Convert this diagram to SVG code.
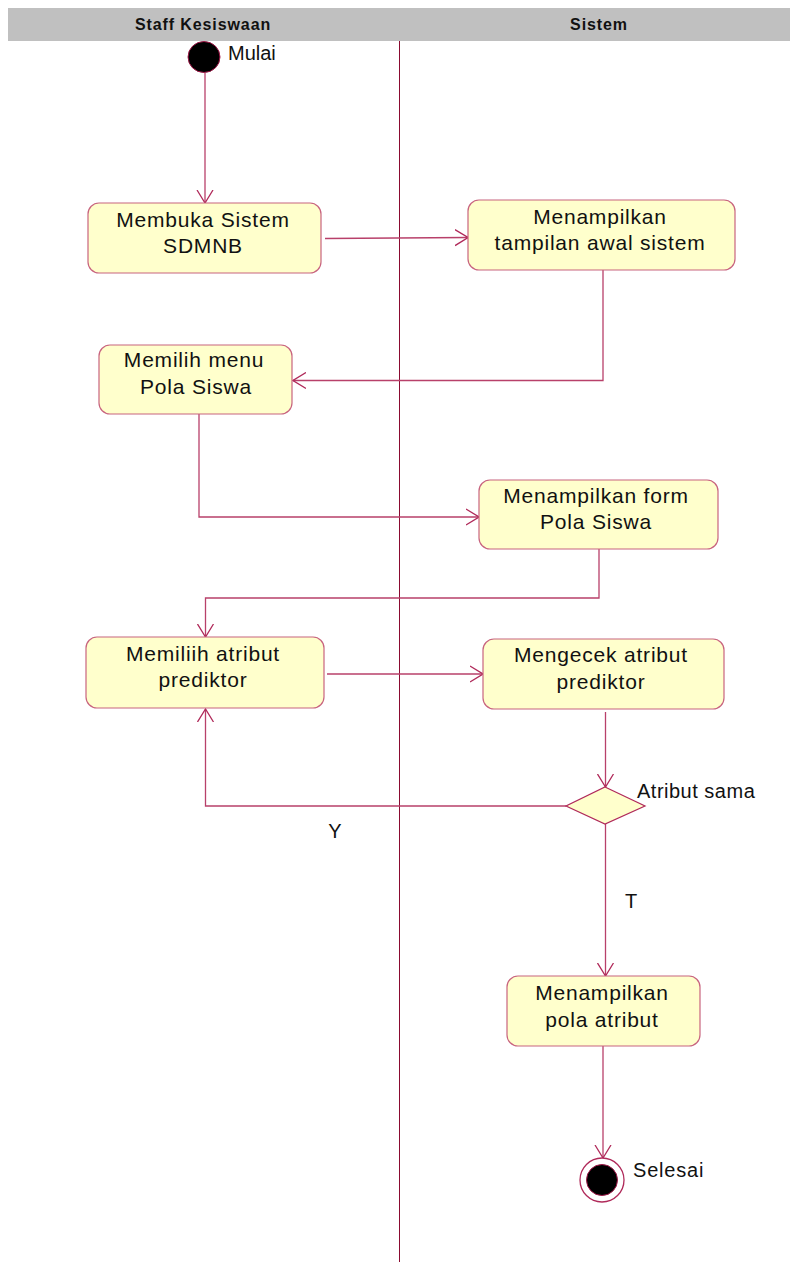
<svg xmlns="http://www.w3.org/2000/svg" width="790" height="1266" viewBox="0 0 790 1266">
  <style>
    .lane-title { font-family: "Liberation Sans", Arial, sans-serif; font-size: 16px; font-weight: bold; letter-spacing: 0.9px; fill: #111; text-anchor: middle; }
    .act { fill: #ffffcc; stroke: #c8647f; stroke-width: 1.2; }
    .label { font-family: "Liberation Sans", Arial, sans-serif; font-size: 21px; letter-spacing: 0.8px; fill: #111; text-anchor: middle; }
    .note { font-family: "Liberation Sans", Arial, sans-serif; font-size: 20px; fill: #111; }
    .flow { fill: none; stroke: #b8406a; stroke-width: 1.3; marker-end: url(#open); }
  </style>
  <defs>
    <marker id="open" viewBox="0 0 14 18" refX="13" refY="9" markerWidth="14" markerHeight="18" markerUnits="userSpaceOnUse" orient="auto">
      <path d="M0,1 L13,9 L0,17" fill="none" stroke="#b02a5a" stroke-width="1.3"/>
    </marker>
  </defs>

  <!-- swimlane header and divider -->
  <g id="lanes">
    <rect x="8" y="8" width="782" height="33" fill="#c0c0c0"/>
    <text class="lane-title" x="203" y="30">Staff Kesiswaan</text>
    <text class="lane-title" x="599" y="30">Sistem</text>
    <line x1="399.5" y1="41" x2="399.5" y2="1262" stroke="#8a0a30" stroke-width="1"/>
  </g>

  <!-- connectors -->
  <g id="connectors">
    <path class="flow" d="M205,73 L205,203"/>
    <path class="flow" d="M325,238.5 L468,237.5"/>
    <path class="flow" d="M603,270 L603,380.5 L293,380.5"/>
    <path class="flow" d="M199,414 L199,517 L479,517"/>
    <path class="flow" d="M599,549 L599,598 L205.5,598 L205.5,637"/>
    <path class="flow" d="M327,674 L483,674"/>
    <path class="flow" d="M605.5,712 L605.5,787"/>
    <path class="flow" d="M566,806 L205.5,806 L205.5,709"/>
    <path class="flow" d="M605.5,824 L605.5,976"/>
    <path class="flow" d="M603,1046 L603,1158"/>
  </g>

  <g id="start">
    <ellipse cx="204" cy="57" rx="16" ry="15.5" fill="#000" stroke="#a01848" stroke-width="1"/>
    <text class="note" x="228" y="60">Mulai</text>
  </g>

  <g id="buka-sistem">
    <rect class="act" x="88" y="203" width="233" height="70" rx="11"/>
    <text class="label" x="203" y="227">Membuka Sistem</text>
    <text class="label" x="203" y="253">SDMNB</text>
  </g>

  <g id="tampilan-awal">
    <rect class="act" x="468" y="200" width="267" height="70" rx="11"/>
    <text class="label" x="600" y="224">Menampilkan</text>
    <text class="label" x="600" y="250">tampilan awal sistem</text>
  </g>

  <g id="pilih-menu">
    <rect class="act" x="99" y="345" width="193" height="69" rx="11"/>
    <text class="label" x="194" y="367">Memilih menu</text>
    <text class="label" x="196" y="394">Pola Siswa</text>
  </g>

  <g id="form-pola">
    <rect class="act" x="479" y="480" width="239" height="69" rx="11"/>
    <text class="label" x="596" y="503">Menampilkan form</text>
    <text class="label" x="596" y="529">Pola Siswa</text>
  </g>

  <g id="pilih-atribut">
    <rect class="act" x="86" y="637" width="238" height="71" rx="11"/>
    <text class="label" x="203" y="661">Memiliih atribut</text>
    <text class="label" x="203" y="687">prediktor</text>
  </g>

  <g id="cek-atribut">
    <rect class="act" x="483" y="639" width="241" height="70" rx="11"/>
    <text class="label" x="601" y="662">Mengecek atribut</text>
    <text class="label" x="601" y="689">prediktor</text>
  </g>

  <g id="keputusan">
    <polygon points="605,787 645,806 605,824 566,806" fill="#ffffcc" stroke="#b02a5a" stroke-width="1.2"/>
    <text class="note" x="637" y="798" style="letter-spacing:0.5px">Atribut sama</text>
    <text class="note" x="335" y="838" text-anchor="middle">Y</text>
    <text class="note" x="631" y="908" text-anchor="middle">T</text>
  </g>

  <g id="pola-atribut">
    <rect class="act" x="507" y="976" width="193" height="70" rx="11"/>
    <text class="label" x="602" y="1000">Menampilkan</text>
    <text class="label" x="602" y="1027">pola atribut</text>
  </g>

  <g id="selesai">
    <circle cx="602" cy="1180" r="22" fill="#fff" stroke="#b02a5a" stroke-width="1.3"/>
    <circle cx="602" cy="1180" r="15.5" fill="#000" stroke="#a01848" stroke-width="1"/>
    <text class="note" x="633" y="1177" style="letter-spacing:0.8px">Selesai</text>
  </g>
</svg>
